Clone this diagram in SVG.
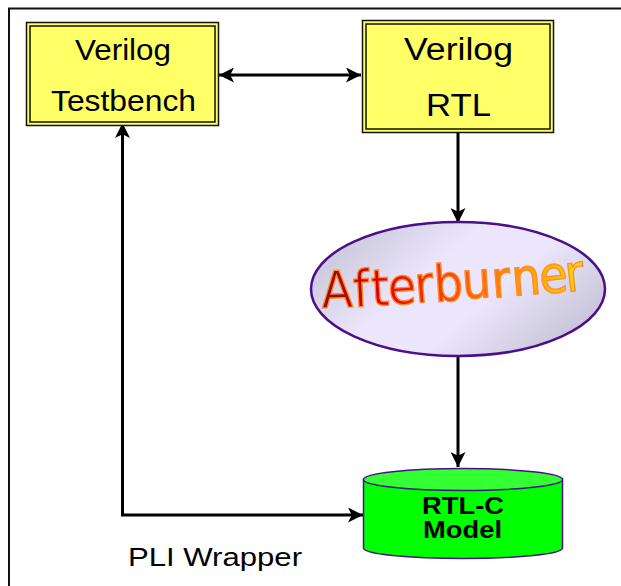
<svg xmlns="http://www.w3.org/2000/svg" width="621" height="586" viewBox="0 0 621 586">
<style>
.label{font-family:"Liberation Sans",Arial,sans-serif;fill:#000;text-anchor:middle}
.outer{fill:#ffff66;stroke:#111;stroke-width:1.5}
.inner{fill:none;stroke:#111;stroke-width:1.5}
.conn{fill:none;stroke:#000;stroke-width:3}
</style>
<defs>
<linearGradient id="ellFill" gradientUnits="userSpaceOnUse" x1="385" y1="205" x2="530" y2="373">
<stop offset="0" stop-color="#cdc9dc"/><stop offset="0.36" stop-color="#ebe6fc"/><stop offset="0.62" stop-color="#ebe6fc"/><stop offset="1" stop-color="#c9c5d8"/>
</linearGradient>
<linearGradient id="fire" gradientUnits="userSpaceOnUse" x1="322" y1="0" x2="585" y2="0">
<stop offset="0" stop-color="#8b0f00"/><stop offset="0.22" stop-color="#e00000"/><stop offset="0.6" stop-color="#ff6a00"/><stop offset="1" stop-color="#ffe000"/>
</linearGradient>
<marker id="arrow" viewBox="0 0 16 16" refX="16" refY="8" markerWidth="15" markerHeight="15" markerUnits="userSpaceOnUse" orient="auto-start-reverse">
<path d="M0 0L16 8L0 16L4 8Z" fill="#000"/>
</marker>
</defs>
<rect width="621" height="586" fill="#fff"/>
<path d="M9 586V8.500H621" fill="none" stroke="#111" stroke-width="2"/>
<g id="connectors">
<path class="conn" d="M219 75H361" marker-start="url(#arrow)" marker-end="url(#arrow)"/>
<path class="conn" d="M458 133V223" marker-end="url(#arrow)"/>
<path class="conn" d="M458 356V467" marker-end="url(#arrow)"/>
<path class="conn" d="M122.500 123V515H363" marker-start="url(#arrow)" marker-end="url(#arrow)"/>
</g>
<g id="testbench">
<rect class="outer" x="26.500" y="22.500" width="192" height="103"/>
<rect class="inner" x="30" y="26" width="185" height="96"/>
<text class="label" x="123" y="59.500" font-size="29" textLength="96" lengthAdjust="spacingAndGlyphs">Verilog</text>
<text class="label" x="123.500" y="110.500" font-size="29" textLength="145" lengthAdjust="spacingAndGlyphs">Testbench</text>
</g>
<g id="rtl">
<rect class="outer" x="362.500" y="20.500" width="191" height="112"/>
<rect class="inner" x="366" y="24" width="184" height="105"/>
<text class="label" x="458.500" y="60" font-size="31" textLength="109" lengthAdjust="spacingAndGlyphs">Verilog</text>
<text class="label" x="458.500" y="116" font-size="31" textLength="65" lengthAdjust="spacingAndGlyphs">RTL</text>
</g>
<g id="afterburner">
<ellipse cx="458" cy="289" rx="147" ry="67" fill="url(#ellFill)" stroke="#4b0f8c" stroke-width="2.500"/>
<text x="322 354 372 389 416 435 463 493 513 541 567" y="308 307 306 305 303 302 299 298 296 294 292" rotate="-2 -3 -3 -4 -5 -4 -4 -5 -5 -6 -7" font-family="'DejaVu Sans',Verdana,sans-serif" font-stretch="condensed" font-size="51" fill="url(#fire)" stroke="#ff8a30" stroke-width="1.300">Afterburner</text>
</g>
<g id="rtlc">
<path d="M363.500 479V548C363.500 554 408 558.500 463 558.500S562.500 554 562.500 548V479Z" fill="#00ff00" stroke="#4b0f8c" stroke-width="1.500"/>
<ellipse cx="463" cy="479.500" rx="99.500" ry="11" fill="#33ff33" stroke="#4b0f8c" stroke-width="1.500"/>
<text class="label" x="463" y="513.500" font-size="23" font-weight="bold" textLength="82" lengthAdjust="spacingAndGlyphs">RTL-C</text>
<text class="label" x="462.500" y="537.500" font-size="23" font-weight="bold" textLength="79" lengthAdjust="spacingAndGlyphs">Model</text>
</g>
<text class="label" x="215" y="566" font-size="26.500" textLength="174" lengthAdjust="spacingAndGlyphs">PLI Wrapper</text>
</svg>
